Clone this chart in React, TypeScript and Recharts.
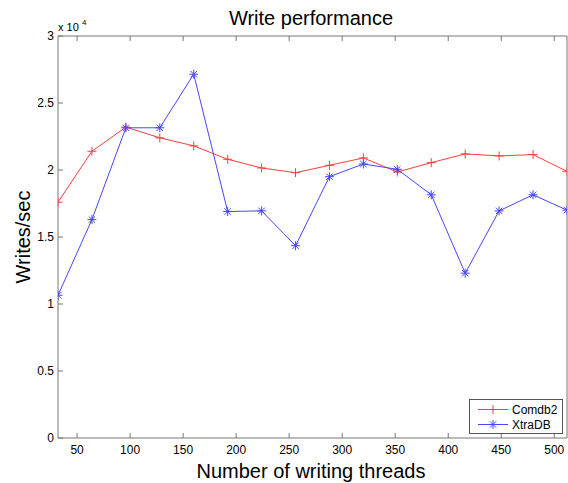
import { LineChart, Line, XAxis, YAxis } from 'recharts';

const threads = [32, 64, 96, 128, 160, 192, 224, 256, 288, 320, 352, 384, 416, 448, 480, 512];
const comdb2 = [17600, 21400, 23200, 22400, 21800, 20800, 20150, 19800, 20350, 20900, 19850, 20550, 21200, 21050, 21150, 19900];
const xtradb = [10650, 16300, 23150, 23150, 27150, 16900, 16950, 14350, 19500, 20450, 20050, 18150, 12300, 16950, 18150, 17000];
const xTicks = [50, 100, 150, 200, 250, 300, 350, 400, 450, 500];
const yTicks = [0, 5000, 10000, 15000, 20000, 25000, 30000];

const rows = threads.map((t, i) => ({ threads: t, Comdb2: comdb2[i], XtraDB: xtradb[i] }));

const RED = '#ff3c3c';
const BLUE = '#4646ff';
const AXIS = '#777';
const FONT = '"Liberation Sans", Arial, Helvetica, sans-serif';

const Plus = (props: any) => {
  const { cx, cy, key } = props;
  if (cx == null || cy == null) return null;
  return (
    <g key={key}>
      <line x1={cx - 4.5} y1={cy} x2={cx + 4.5} y2={cy} stroke={RED} strokeWidth={1} />
      <line x1={cx} y1={cy - 4.5} x2={cx} y2={cy + 4.5} stroke={RED} strokeWidth={1} />
    </g>
  );
};

const Star = (props: any) => {
  const { cx, cy, key } = props;
  if (cx == null || cy == null) return null;
  const r = 4.5;
  const d = 3.2;
  return (
    <g key={key}>
      <line x1={cx - r} y1={cy} x2={cx + r} y2={cy} stroke={BLUE} strokeWidth={1} />
      <line x1={cx} y1={cy - r} x2={cx} y2={cy + r} stroke={BLUE} strokeWidth={1} />
      <line x1={cx - d} y1={cy - d} x2={cx + d} y2={cy + d} stroke={BLUE} strokeWidth={1} />
      <line x1={cx - d} y1={cy + d} x2={cx + d} y2={cy - d} stroke={BLUE} strokeWidth={1} />
    </g>
  );
};

const fmtY = (v: number) => String(v / 10000);

const App = () => {
  return (
    <div style={{ position: 'absolute', left: 0, top: 0, width: 568, height: 483, background: '#fff', fontFamily: FONT }}>
      <LineChart width={568} height={483} data={rows} margin={{ top: 35, right: 0, bottom: 0, left: 0 }}>
        <XAxis
          dataKey="threads"
          type="number"
          domain={[32, 512]}
          ticks={xTicks}
          allowDataOverflow
          height={45}
          tickSize={-5}
          tickMargin={12}
          stroke={AXIS}
          tick={{ fill: '#000', fontSize: 12, fontFamily: FONT }}
        />
        <XAxis
          xAxisId="top"
          orientation="top"
          dataKey="threads"
          type="number"
          domain={[32, 512]}
          ticks={xTicks}
          allowDataOverflow
          height={1}
          tickSize={-5}
          tickFormatter={() => ''}
          stroke={AXIS}
        />
        <YAxis
          type="number"
          domain={[0, 30000]}
          ticks={yTicks}
          tickFormatter={fmtY}
          width={58}
          tickSize={-5}
          tickMargin={9}
          stroke={AXIS}
          tick={{ fill: '#000', fontSize: 12, fontFamily: FONT }}
        />
        <YAxis
          yAxisId="right"
          orientation="right"
          type="number"
          domain={[0, 30000]}
          ticks={yTicks}
          width={1}
          tickSize={-5}
          tickFormatter={() => ''}
          stroke={AXIS}
        />
        <Line
          type="linear"
          dataKey="Comdb2"
          stroke={RED}
          strokeWidth={1}
          dot={Plus}
          activeDot={false}
          isAnimationActive={false}
        />
        <Line
          type="linear"
          dataKey="XtraDB"
          stroke={BLUE}
          strokeWidth={1}
          dot={Star}
          activeDot={false}
          isAnimationActive={false}
        />
      </LineChart>

      <svg width={568} height={483} style={{ position: 'absolute', left: 0, top: 0, pointerEvents: 'none' }}>
        <text x={311} y={25} textAnchor="middle" fontSize={20} fontFamily={FONT} fill="#000">Write performance</text>
        <text x={58} y={31} fontSize={11} fontFamily={FONT} fill="#000">x 10</text>
        <text x={82} y={25} fontSize={8} fontFamily={FONT} fill="#000">4</text>
        <text x={311} y={478} textAnchor="middle" fontSize={20} fontFamily={FONT} fill="#000">Number of writing threads</text>
        <text x={30} y={237} textAnchor="middle" fontSize={20} fontFamily={FONT} fill="#000" transform="rotate(-90 30 237)">Writes/sec</text>
      </svg>

      <div
        style={{
          position: 'absolute',
          left: 469,
          top: 399,
          width: 92,
          height: 33,
          border: '1px solid #555',
          background: '#fff',
          fontSize: 12,
          fontFamily: FONT,
        }}
      >
        {[
          { name: 'Comdb2', color: RED, Mark: Plus },
          { name: 'XtraDB', color: BLUE, Mark: Star },
        ].map((s, i) => (
          <div key={s.name} style={{ position: 'absolute', left: 0, top: 2 + i * 15, height: 15, display: 'flex', alignItems: 'center' }}>
            <svg width={42} height={15}>
              <line x1={8} y1={7.5} x2={38} y2={7.5} stroke={s.color} strokeWidth={1} />
              {s.Mark({ cx: 23, cy: 7.5 })}
            </svg>
            <span style={{ color: '#000' }}>{s.name}</span>
          </div>
        ))}
      </div>
    </div>
  );
};

export default App;
